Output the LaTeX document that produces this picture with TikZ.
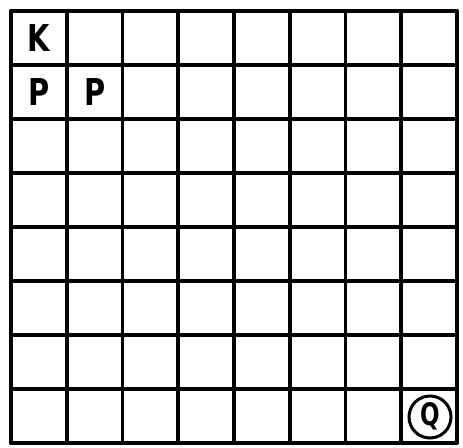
\documentclass[tikz,border=0pt]{standalone}
\usepackage{fontspec}
\setmainfont{DejaVu Sans}
\usepackage{tikz}
\usetikzlibrary{positioning}
\tikzset{
  piece/.style={font=\fontsize{37}{37}\selectfont\bfseries, inner sep=0pt, xscale=0.78},
  boardline/.style={line width=3.6pt, line cap=round}
}
\begin{document}
\begin{tikzpicture}[x=1pt,y=1pt]
  \path[use as bounding box] (0,0) rectangle (463,447);
  \fill[white] (0,0) rectangle (463,447);
  % grid 8 x 8
  \foreach \i in {0,...,8} {
    \draw[boardline] ({11+55.75*\i},4) -- ({11+55.75*\i},436);
    \draw[boardline] (11,{4+54*\i}) -- (457,{4+54*\i});
  }
  \node[piece] (king) at (38.9,409) {K};
  \node[piece] (pawnA) at (38.9,355) {P};
  \node[piece] (pawnB) at (94.6,355) {P};
  \draw[line width=3pt] (430,30) circle (21);
  \node[piece, font=\fontsize{31}{31}\selectfont\bfseries, xscale=0.95] (queen) at (430,31) {Q};
\end{tikzpicture}
\end{document}
